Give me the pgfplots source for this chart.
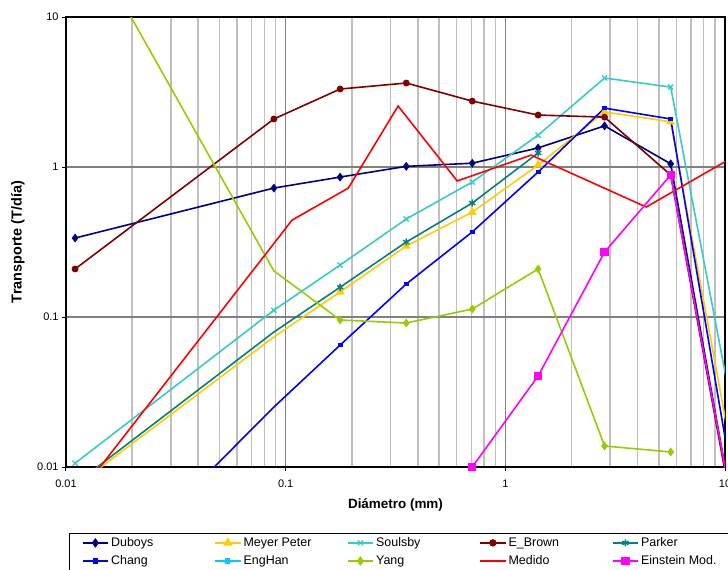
\documentclass[border=0pt]{standalone}
\usepackage{pgfplots}
\pgfplotsset{compat=1.18}
\usepackage{fontspec}
\setmainfont{Liberation Sans}
\definecolor{cDub}{HTML}{000080}
\definecolor{cMey}{HTML}{FFCC00}
\definecolor{cSou}{HTML}{33CCCC}
\definecolor{cEBr}{HTML}{800000}
\definecolor{cPar}{HTML}{008080}
\definecolor{cCha}{HTML}{0000FF}
\definecolor{cEng}{HTML}{00CCFF}
\definecolor{cYan}{HTML}{99CC00}
\definecolor{cMed}{HTML}{FF0000}
\definecolor{cEin}{HTML}{FF00FF}
\definecolor{gmaj}{HTML}{808080}
\definecolor{gmin}{HTML}{C0C0C0}
\newcommand{\legtxt}[2][101bp]{\makebox[#1][l]{\vphantom{Ay}#2}}
\begin{document}
\begin{tikzpicture}[x=1bp,y=1bp]
\begin{axis}[
  at={(66bp,103bp)}, anchor=south west,
  scale only axis, width=659bp, height=450bp,
  xmode=log, ymode=log,
  xmin=0.01, xmax=10, ymin=0.01, ymax=10,
  xtick={0.01,0.1,1,10}, xticklabels={0.01,0.1,1,10},
  ytick={0.01,0.1,1,10}, yticklabels={0.01,0.1,1,10},
  minor xtick={0.02,0.03,0.04,0.05,0.06,0.07,0.08,0.09,0.2,0.3,0.4,0.5,0.6,0.7,0.8,0.9,2,3,4,5,6,7,8,9},
  minor ytick={},
  xminorgrids, xmajorgrids, ymajorgrids,
  major grid style={color=gmaj, line width=1.4bp},
  minor grid style={color=gmin, line width=1.5bp},
  axis line style={line width=1.6bp, black},
  tick align=outside, xtick pos=bottom, ytick pos=left,
  major tick length=4bp, minor tick length=0bp,
  major tick style={black, line width=1bp},
  ticklabel style={font=\fontsize{11}{13}\selectfont},
  xticklabel style={yshift=-5bp},
  xlabel={Diámetro (mm)}, ylabel={Transporte (T/día)},
  xlabel style={font=\bfseries\fontsize{13.5}{15}\selectfont, at={(axis description cs:0.5,-0.085)}, anchor=center},
  ylabel style={font=\bfseries\fontsize{14.5}{16}\selectfont, at={(axis description cs:-0.073,0.5)}, anchor=center},
  clip=true,
  every axis plot/.append style={line width=1.6bp},
  legend columns=5,
  legend cell align=left,
  legend image code/.code={\draw[line width=2bp, mark indices={2}] plot coordinates {(0bp,0bp) (12.75bp,0bp) (25.5bp,0bp)};},
  legend style={at={(axis description cs:0.0046,-0.1467)}, anchor=north west,
    draw=black, line width=1.2bp, font=\fontsize{12.5}{14}\selectfont,
    inner xsep=12bp, inner ysep=1.5bp, row sep=2.6bp,
    nodes={inner xsep=2bp, inner ysep=2.5bp}},
]
\addplot[color=cDub, mark=diamond*, mark size=3.2bp, mark indices={1,2,3,4,5,6,7,8}] coordinates {
 (0.011,0.336) (0.0884,0.724) (0.177,0.857) (0.354,1.01) (0.707,1.06) (1.41,1.34) (2.83,1.88) (5.66,1.05) (11.31,0.00365)};
\addlegendentry{\legtxt{Duboys}}
\addplot[color=cMey, mark=triangle*, mark size=3.6bp, mark indices={2,3,4,5,6,7,8}] coordinates {
 (0.011,0.0074) (0.0884,0.0736) (0.177,0.147) (0.354,0.297) (0.707,0.50) (1.41,1.03) (2.83,2.33) (5.66,2.00) (11.31,0.0081)};
\addlegendentry{\legtxt{Meyer Peter}}
\addplot[color=cSou, mark=x, mark size=3.6bp, mark options={line width=1.4bp}, mark indices={1,2,3,4,5,6,7,8}] coordinates {
 (0.011,0.0106) (0.0884,0.111) (0.177,0.222) (0.354,0.45) (0.707,0.794) (1.41,1.63) (2.83,3.92) (5.66,3.41) (11.31,0.0167)};
\addlegendentry{\legtxt{Soulsby}}
\addplot[color=cEBr, mark=*, mark size=2.6bp, mark indices={1,2,3,4,5,6,7,8}] coordinates {
 (0.011,0.209) (0.0884,2.09) (0.177,3.31) (0.354,3.63) (0.707,2.75) (1.41,2.22) (2.83,2.15) (5.66,0.885) (11.31,0.0035)};
\addlegendentry{\legtxt{E\_Brown}}
\addplot[color=cPar, mark=asterisk, mark size=3.6bp, mark options={line width=1.4bp}, mark indices={2,3,4,5,6}] coordinates {
 (0.011,0.0077) (0.0884,0.0794) (0.177,0.158) (0.354,0.316) (0.707,0.575) (1.41,1.24)};
\addlegendentry{\legtxt[75bp]{Parker}}
\addplot[color=cCha, mark=square*, mark size=1.6bp, mark indices={2,3,4,5,6,7,8}] coordinates {
 (0.011,0.00117) (0.0884,0.0251) (0.177,0.065) (0.354,0.166) (0.707,0.369) (1.41,0.926) (2.83,2.47) (5.66,2.09) (11.31,0.0055)};
\addlegendentry{\legtxt{Chang}}
\addlegendimage{color=cEng, mark=square*, mark size=1.6bp, line width=1.6bp}
\addlegendentry{\legtxt{EngHan}}
\addplot[color=cYan, mark=diamond*, mark size=3.2bp, mark indices={2,3,4,5,6,7,8}] coordinates {
 (0.011,46) (0.0884,0.203) (0.177,0.0955) (0.354,0.0912) (0.707,0.113) (1.41,0.209) (2.83,0.0138) (5.66,0.0126)};
\addlegendentry{\legtxt{Yang}}
\addplot[color=cMed, mark=none] coordinates {
 (0.011,0.0061) (0.107,0.443) (0.193,0.724) (0.325,2.55) (0.604,0.807) (1.31,1.2) (4.38,0.541) (10.5,1.13)};
\addlegendentry{\legtxt{Medido}}
\addplot[color=cEin, mark=square*, mark size=3.4bp, mark indices={1,2,3,4}] coordinates {
 (0.707,0.01) (1.41,0.0404) (2.83,0.271) (5.66,0.885) (11.31,0.0038)};
\addlegendentry{\legtxt[75bp]{Einstein Mod.}}
\end{axis}
\pgfresetboundingbox
\useasboundingbox (0,0) rectangle (728bp,570bp);
\end{tikzpicture}
\end{document}
